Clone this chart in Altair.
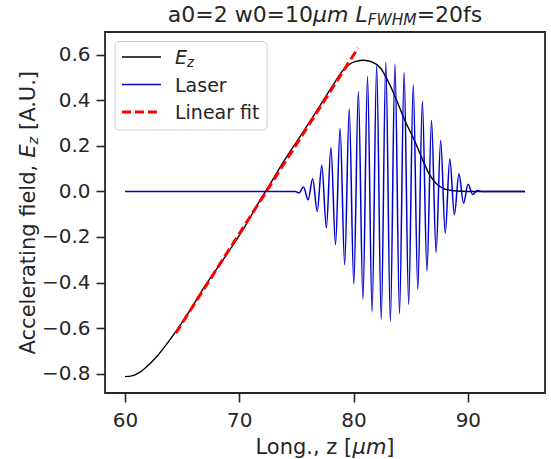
import altair as alt
import pandas as pd

# ---------------- data ----------------
ez_z = [60.0, 60.6, 61.2, 61.75, 62.9, 64.1, 65.3, 67.0, 68.8, 70.5, 71.8, 72.3,
        73.7, 75.2, 76.65, 78.1, 79.0, 79.6, 80.2, 80.9, 81.6, 82.35, 83.1, 83.8,
        84.5, 85.3, 86.0, 86.6, 87.2, 88.0, 89.0, 90.0, 95.0]
ez_v = [-0.813, -0.810, -0.797, -0.776, -0.718, -0.640, -0.553, -0.415, -0.284,
        -0.153, -0.040, 0.0, 0.117, 0.232, 0.344, 0.459, 0.527, 0.557, 0.571,
        0.576, 0.569, 0.542, 0.476, 0.396, 0.310, 0.227, 0.144, 0.078, 0.036,
        0.010, 0.002, 0.0, 0.0]

laser_z = [60.0, 74.9, 75.22, 75.62, 76.02, 76.42, 76.82, 77.22, 77.62, 78.02,
           78.42, 78.82, 79.22, 79.62, 80.02, 80.42, 80.82, 81.22, 81.62, 82.02,
           82.42, 82.82, 83.22, 83.62, 84.02, 84.42, 84.82, 85.22, 85.62, 86.02,
           86.42, 86.82, 87.22, 87.62, 88.02, 88.42, 88.82, 89.22, 89.62, 90.02,
           90.42, 90.82, 91.2, 95.0]
laser_v = [0.0, 0.0, -0.007, 0.019, -0.037, 0.056, -0.087, 0.115, -0.160, 0.193,
           -0.234, 0.277, -0.322, 0.362, -0.408, 0.439, -0.474, 0.505, -0.529,
           0.552, -0.562, 0.567, -0.570, 0.559, -0.537, 0.523, -0.496, 0.468,
           -0.430, 0.395, -0.349, 0.311, -0.268, 0.225, -0.184, 0.144, -0.102,
           0.078, -0.052, 0.031, -0.013, 0.004, 0.0, 0.0]

fit_z = [64.44, 80.39]
fit_v = [-0.622, 0.630]

x_ticks = [60, 70, 80, 90]
y_ticks = [-0.8, -0.6, -0.4, -0.2, 0.0, 0.2, 0.4, 0.6]
x_domain = [58.25, 96.75]
y_domain = [-0.885, 0.70]

# ---------------- styling ----------------
FONT = "DejaVu Sans"
INK = "#262626"
W_PLOT, H_PLOT = 440, 361
FS = 20

# DejaVu Sans advance widths (em)
ADV = {' ': 0.318, 'a': 0.613, '0': 0.636, '1': 0.636, '2': 0.636, '=': 0.838,
       'w': 0.818, 'μ': 0.635, 'm': 0.974, 'L': 0.557, 'F': 0.575, 'W': 0.989,
       'H': 0.752, 'M': 0.863, 'f': 0.352, 's': 0.521, 'o': 0.612, 'n': 0.634,
       'g': 0.635, '.': 0.318, ',': 0.318, 'z': 0.525, '[': 0.390, ']': 0.390,
       'A': 0.684, 'c': 0.550, 'e': 0.615, 'l': 0.278, 'r': 0.411, 't': 0.392,
       'i': 0.278, 'd': 0.635, 'E': 0.632, 'U': 0.732}

one = pd.DataFrame({"d": [0]})


def text_run(segs, x, y, size, angle=0, center=True):
    """segs: list of (text, italic, subscript)"""
    widths = []
    for t, it, sub in segs:
        fs = size * 0.7 if sub else size
        widths.append(sum(ADV.get(c, 0.6) for c in t) * fs)
    off = -sum(widths) / 2 if center else 0.0
    out = []
    for (t, it, sub), w in zip(segs, widths):
        fs = size * 0.7 if sub else size
        shift = size * 0.14 if sub else 0.0
        lead = len(t) - len(t.lstrip(" "))
        o = off + lead * ADV[' '] * fs
        shown = t.strip(" ")
        if shown:
            if angle == 0:
                px, py = x + o, y + shift
            else:
                px, py = x + shift, y - o
            out.append(
                alt.Chart(one).mark_text(
                    text=shown, font=FONT, fontSize=fs,
                    fontStyle="italic" if it else "normal",
                    align="left", baseline="alphabetic", color=INK, angle=angle,
                ).encode(x=alt.value(px), y=alt.value(py))
            )
        off += w
    return out


xs = alt.Scale(domain=x_domain, nice=False, zero=False)
ys = alt.Scale(domain=y_domain, nice=False, zero=False)

x_axis = alt.Axis(values=x_ticks, title=None, grid=False, domain=False,
                  tickSize=9, tickWidth=1.6, tickColor=INK, labelFont=FONT,
                  labelFontSize=FS, labelColor=INK, labelPadding=8, format="d")
y_axis = alt.Axis(values=y_ticks, title=None, grid=False, domain=False,
                  tickSize=9, tickWidth=1.6, tickColor=INK, labelFont=FONT,
                  labelFontSize=FS, labelColor=INK, labelPadding=6, format=".1f")

df_ez = pd.DataFrame({"z": ez_z, "v": ez_v})
df_laser = pd.DataFrame({"z": laser_z, "v": laser_v})
df_fit = pd.DataFrame({"z": fit_z, "v": fit_v})

ez = alt.Chart(df_ez).mark_line(color="black", strokeWidth=1.4, interpolate="monotone").encode(
    x=alt.X("z:Q", scale=xs, axis=x_axis),
    y=alt.Y("v:Q", scale=ys, axis=y_axis),
)
laser = alt.Chart(df_laser).mark_line(color="#0000cc", strokeWidth=1.5, interpolate="monotone").encode(
    x=alt.X("z:Q", scale=xs), y=alt.Y("v:Q", scale=ys)
)
fit = alt.Chart(df_fit).mark_line(color="#ff0000", strokeWidth=3, strokeDash=[9, 4]).encode(
    x=alt.X("z:Q", scale=xs), y=alt.Y("v:Q", scale=ys)
)

# legend (manual, to allow the E_z label)
leg_box = alt.Chart(one).mark_rect(fill="white", fillOpacity=0.8, stroke="#cccccc",
                                   strokeWidth=1, cornerRadius=4).encode(
    x=alt.value(10), x2=alt.value(162), y=alt.value(9.5), y2=alt.value(98))
rows = [25, 52.5, 80]
leg_lines = [
    alt.Chart(one).mark_rule(color="black", strokeWidth=1.4).encode(
        x=alt.value(17), x2=alt.value(56), y=alt.value(rows[0])),
    alt.Chart(one).mark_rule(color="#0000cc", strokeWidth=1.5).encode(
        x=alt.value(17), x2=alt.value(56), y=alt.value(rows[1])),
    alt.Chart(one).mark_rule(color="#ff0000", strokeWidth=3, strokeDash=[9, 4]).encode(
        x=alt.value(17), x2=alt.value(56), y=alt.value(rows[2])),
]
LFS = 19
leg_text = text_run([("E", True, False), ("z", True, True)], 70, rows[0] + 7, LFS, center=False)
leg_text += [
    alt.Chart(one).mark_text(text=t, font=FONT, fontSize=LFS, align="left",
                             baseline="alphabetic", color=INK).encode(
        x=alt.value(70), y=alt.value(r + 7))
    for t, r in [("Laser", rows[1]), ("Linear fit", rows[2])]
]

title = text_run([("a0=2 w0=10", False, False), ("μm", True, False), (" ", False, False),
                  ("L", True, False), ("FWHM", True, True), ("=20fs", False, False)],
                 W_PLOT / 2, -10.5, 22)
xtitle = text_run([("Long., z [", False, False), ("μm", True, False), ("]", False, False)],
                  W_PLOT / 2, H_PLOT + 60.5, 21)
ytitle = text_run([("Accelerating field, ", False, False), ("E", True, False),
                   ("z", True, True), (" [A.U.]", False, False)],
                  -70, H_PLOT / 2, 21, angle=270)

chart = alt.layer(ez, laser, fit, leg_box, *leg_lines, *leg_text, *title, *xtitle, *ytitle).properties(
    width=W_PLOT, height=H_PLOT,
    autosize=alt.AutoSizeParams(type="none"),
    padding={"left": 105, "top": 32, "right": 6, "bottom": 66},
).configure_view(stroke=INK, strokeWidth=1.8)

chart.save("out.html", embed_options={"renderer": "svg", "actions": False})
